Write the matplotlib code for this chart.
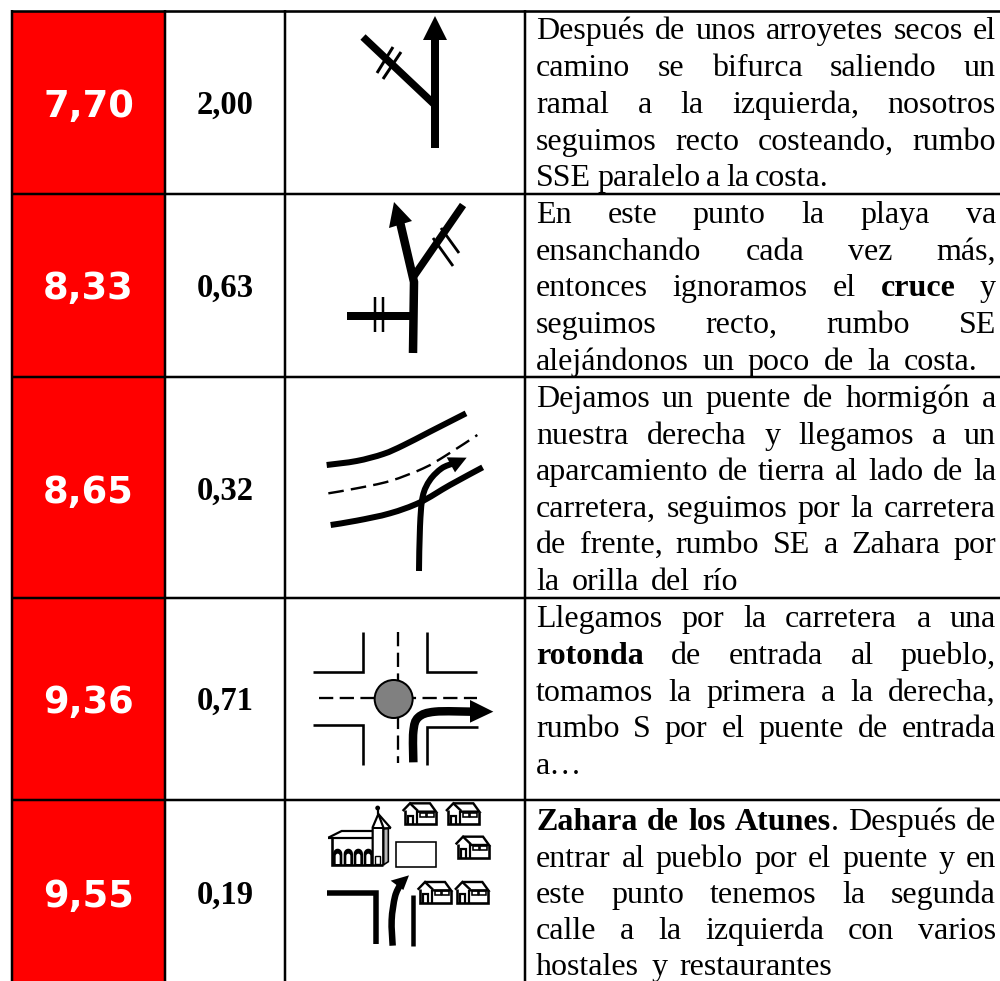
import numpy as np
import matplotlib
matplotlib.use("Agg")
import matplotlib.pyplot as plt
from matplotlib.path import Path
from matplotlib.patches import PathPatch, Polygon, Rectangle, Circle

# ---------- content ----------
km_totals = ["7,70", "8,33", "8,65", "9,36", "9,55"]
km_partials = ["2,00", "0,63", "0,32", "0,71", "0,19"]
row_edges = [10.5, 193.5, 376.5, 598, 800, 990]
row_centres = [102, 285, 488, 698, 892]
col_edges = [12, 165, 285, 525]
descriptions = [
    ["Después de unos arroyetes secos el", "camino se bifurca saliendo un",
     "ramal a la izquierda, nosotros", "seguimos recto costeando, rumbo",
     "SSE paralelo a la costa."],
    ["En este punto la playa va", "ensanchando cada vez más,",
     "entonces ignoramos el **cruce** y", "seguimos recto, rumbo SE",
     "alejándonos un poco de la costa."],
    ["Dejamos un puente de hormigón a", "nuestra derecha y llegamos a un",
     "aparcamiento de tierra al lado de la", "carretera, seguimos por la carretera",
     "de frente, rumbo SE a Zahara por", "la orilla del río"],
    ["Llegamos por la carretera a una", "**rotonda** de entrada al pueblo,",
     "tomamos la primera a la derecha,", "rumbo S por el puente de entrada", "a…"],
    ["**Zahara** **de** **los** **Atunes**. Después de", "entrar al pueblo por el puente y en",
     "este punto tenemos la segunda", "calle a la izquierda con varios",
     "hostales y restaurantes"],
]
baselines = [
    [39, 76, 113, 150, 186],
    [223, 260, 296, 333, 370],
    [407, 444, 480, 517, 553, 590],
    [627, 664, 701, 737, 774],
    [830, 867, 903, 939, 975],
]
last_line_ends = [829, 978, 738, 573, 832]
TEXT_LEFT, TEXT_RIGHT = 536, 996
BODY_SIZE = 23

# ---------- canvas ----------
plt.rcParams["font.family"] = ["Liberation Serif", "DejaVu Serif"]
fig = plt.figure(figsize=(10, 9.81), dpi=100)
ax = fig.add_axes([0, 0, 1, 1])
ax.set_xlim(0, 1000)
ax.set_ylim(981, 0)
ax.axis("off")
PX = 0.72


def z(pts, ox, oy):
    return [(ox + x / 3, oy + y / 3) for x, y in pts]


def line(pts, w, **kw):
    xs, ys = zip(*pts)
    kw.setdefault("solid_capstyle", "butt")
    kw.setdefault("solid_joinstyle", "miter")
    kw.setdefault("dash_capstyle", "butt")
    ax.plot(xs, ys, color="k", lw=w * PX, **kw)


def curve(pts, w, dashes=None):
    p = np.array(pts, float)
    verts = [p[0]]
    codes = [Path.MOVETO]
    for i in range(len(p) - 1):
        a = p[max(i - 1, 0)]
        b, c = p[i], p[i + 1]
        d = p[min(i + 2, len(p) - 1)]
        verts += [b + (c - a) / 6, c - (d - b) / 6, c]
        codes += [Path.CURVE4] * 3
    patch = PathPatch(Path(verts, codes), fc="none", ec="k", lw=w * PX, capstyle="butt")
    if dashes:
        patch.set_linestyle((0, dashes))
    ax.add_patch(patch)


def head(pts):
    ax.add_patch(Polygon(pts, closed=True, fc="k", ec="none"))


# ---------- table ----------
for i in range(5):
    ax.add_patch(Rectangle((col_edges[0], row_edges[i]), col_edges[1] - col_edges[0],
                           row_edges[i + 1] - row_edges[i], fc="#FF0000", ec="none"))
for x in col_edges:
    ax.plot([x, x], [row_edges[0] - 1, 981], color="k", lw=2.5 * PX, solid_capstyle="butt")
ax.plot([col_edges[0], 1000], [row_edges[0]] * 2, color="k", lw=2.6 * PX, solid_capstyle="butt")
for y in row_edges[1:5]:
    ax.plot([col_edges[0], 1000], [y, y], color="k", lw=2.5 * PX, solid_capstyle="butt")

for k, p, yc in zip(km_totals, km_partials, row_centres):
    ax.text(88.5, yc, k, color="white", family="DejaVu Sans", weight="bold", size=26.6,
            ha="center", va="center_baseline")
    ax.text(225, yc, p, color="k", weight="bold", size=23.5, ha="center", va="center_baseline")

# ---------- body text (justified word by word) ----------
renderer = fig.canvas.get_renderer()


def parse(line_text):
    out = []
    for word in line_text.split(" "):
        parts = []
        while "**" in word:
            pre, rest = word.split("**", 1)
            bold, word = rest.split("**", 1)
            if pre:
                parts.append((pre, False))
            parts.append((bold, True))
        if word:
            parts.append((word, False))
        out.append(parts)
    return out


def width_of(artist):
    return artist.get_window_extent(renderer).width


for r, (lines_, ys) in enumerate(zip(descriptions, baselines)):
    for j, (txt, y) in enumerate(zip(lines_, ys)):
        right = last_line_ends[r] if j == len(lines_) - 1 else TEXT_RIGHT
        words = parse(txt)
        arts = []
        total = 0.0
        for parts in words:
            group = []
            for s, b in parts:
                t = ax.text(0, y, s, size=BODY_SIZE, weight="bold" if b else "normal",
                            ha="left", va="baseline", color="k")
                w = width_of(t)
                group.append((t, w))
                total += w
            arts.append(group)
        gap = (right - TEXT_LEFT - total) / max(len(arts) - 1, 1)
        x = TEXT_LEFT
        for group in arts:
            for t, w in group:
                t.set_x(x)
                x += w
            x += gap

# ---------- icon 1 ----------
line([(435, 148), (435, 38)], 8)
head([(435, 16), (423, 40), (447, 40)])
line([(435, 105), (363, 37)], 7.5)
line([(393, 47), (377, 73)], 3)
line([(401, 52), (383, 79)], 3)

# ---------- icon 2 ----------
line([(413, 353), (414, 282), (400, 222)], 8.5)
head([(394, 202), (389, 228), (412, 221)])
line([(414, 276), (463, 205)], 7.5)
line([(433, 238), (453, 266)], 2.8)
line([(441, 228), (459, 253)], 2.8)
line([(347, 316), (413, 316)], 8)
line([(375, 297), (375, 332)], 2.5)
line([(383, 297), (383, 332)], 2.5)

# ---------- icon 3 ----------
O3 = (290, 380)
curve(z([(110, 255), (200, 243), (280, 222), (340, 196), (420, 155), (528, 100)], *O3), 6)
curve(z([(115, 340), (200, 325), (300, 303), (400, 265), (470, 225), (562, 165)], *O3), 2.4, dashes=(6.5, 3))
curve(z([(122, 435), (200, 422), (300, 400), (390, 367), (480, 315), (578, 262)], *O3), 6)
curve(z([(387, 573), (390, 440), (398, 350), (420, 300), (455, 265), (490, 250)], *O3), 6)
head(z([(530, 233), (470, 232), (495, 277)], *O3))

# ---------- icon 4 ----------
O4 = (290, 600)
line(z([(70, 215), (218, 215), (218, 97)], *O4), 2.6)
line(z([(412, 97), (412, 215), (560, 215)], *O4), 2.6)
line(z([(70, 375), (218, 375), (218, 495)], *O4), 2.6)
line(z([(412, 495), (412, 380), (565, 380)], *O4), 2.6)
line(z([(88, 293), (560, 293)], *O4), 2.3, linestyle=(0, (6.2, 2.8)))
line(z([(325, 95), (325, 490)], *O4), 2.3, linestyle=(0, (6.2, 2.8)))
cx, cy = z([(311, 297)], *O4)[0]
ax.add_patch(Circle((cx, cy), 19, fc="#808080", ec="k", lw=2 * PX, zorder=3))
curve(z([(370, 487), (370, 395), (385, 352), (435, 335), (545, 335)], *O4), 8.5)
head(z([(540, 300), (610, 335), (540, 368)], *O4))

# ---------- icon 5 ----------
O5 = (300, 790)
line(z([(80, 310), (228, 310), (228, 462)], *O5), 5.5)
line(z([(338, 315), (338, 467)], *O5), 4.5)
curve(z([(278, 467), (275, 390), (285, 320), (300, 285)], *O5), 6.5)
head(z([(327, 256), (272, 272), (310, 300)], *O5))
x0, y0 = z([(288, 155)], *O5)[0]
ax.add_patch(Rectangle((x0, y0), 119 / 3, 77 / 3, fc="white", ec="k", lw=1.6 * PX))


def house(zx, zy):
    o = (300 + zx / 3, 790 + zy / 3)
    line(z([(0, 28), (22, 5), (46, 28)], *o), 2.4)
    line(z([(22, 5), (82, 5), (100, 30), (42, 30)], *o), 2.4)
    line(z([(6, 26), (6, 68), (100, 68), (100, 30)], *o), 2.6)
    line(z([(42, 28), (42, 68)], *o), 2.2)
    line(z([(16, 68), (16, 42), (30, 42), (30, 68)], *o), 2.2)
    ax.add_patch(Rectangle(z([(52, 33)], *o)[0], 6, 4, fc="white", ec="k", lw=1.6 * PX))
    ax.add_patch(Rectangle(z([(72, 33)], *o)[0], 7, 4, fc="white", ec="k", lw=1.6 * PX))


for hx, hy in [(308, 35), (438, 35), (467, 135), (353, 271), (465, 271)]:
    house(hx, hy)

# church
ax.add_patch(Polygon(z([(250, 115), (265, 115), (265, 215), (250, 225)], *O5), fc="#B8B8B8", ec="k", lw=1.6 * PX))
line(z([(85, 143), (125, 123), (218, 123)], *O5), 2.2)
line(z([(85, 144), (218, 144)], *O5), 2.2)
line(z([(95, 144), (95, 226), (250, 226)], *O5), 2.6)
line(z([(218, 226), (218, 112), (235, 72), (250, 112), (250, 226)], *O5), 2.2)
line(z([(218, 113), (250, 113)], *O5), 2)
line(z([(235, 72), (272, 114), (250, 116)], *O5), 2.2)
line(z([(233, 50), (233, 72)], *O5), 2.2)
ax.add_patch(Circle(z([(233, 54)], *O5)[0], 2.4, fc="k", ec="none"))
for ax_x in [99, 131, 161, 191]:
    t = np.linspace(np.pi, 0, 12)
    outer = [(ax_x + 14 + 14 * np.cos(a), 192 + 16 * -np.sin(a)) for a in t]
    outer = [(ax_x, 226)] + outer + [(ax_x + 28, 226)]
    ax.add_patch(Polygon(z(outer, *O5), fc="k", ec="none"))
    inner = [(ax_x + 14 + 6 * np.cos(a), 198 + 7 * -np.sin(a)) for a in t]
    inner = [(ax_x + 8, 222)] + inner + [(ax_x + 20, 222)]
    ax.add_patch(Polygon(z(inner, *O5), fc="white", ec="none"))
ax.add_patch(Rectangle(z([(226, 197)], *O5)[0], 5, 8, fc="white", ec="k", lw=1.4 * PX))

fig.savefig("out.png", dpi=100, facecolor="white")
